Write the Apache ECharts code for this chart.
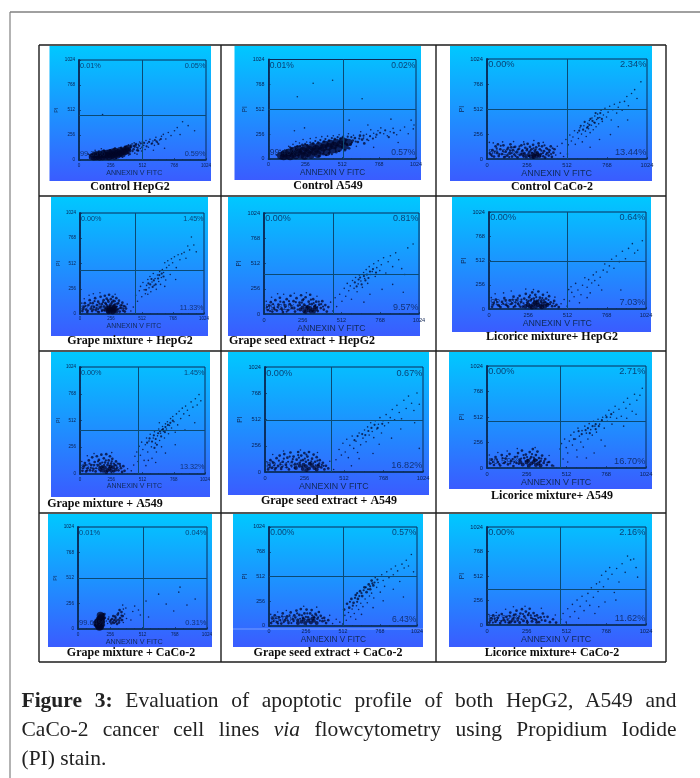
<!DOCTYPE html>
<html><head><meta charset="utf-8">
<style>
html,body{margin:0;padding:0;background:#fff;width:700px;height:778px;overflow:hidden}
#chart{position:absolute;left:0;top:0;width:700px;height:778px;filter:blur(0.55px)}
#cap{position:absolute;left:21.5px;top:686px;width:655px;font-family:"Liberation Serif",serif;font-size:21.5px;line-height:29px;color:#222}
#cap div{white-space:nowrap}
#cap .j{text-align:justify;text-align-last:justify;white-space:normal}
</style></head><body>
<div id="chart"></div>
<div id="cap">
<div class="j"><b>Figure 3:</b> Evaluation of apoptotic profile of both HepG2, A549 and</div>
<div class="j">CaCo-2 cancer cell lines <i>via</i> flowcytometry using Propidium Iodide</div>
<div>(PI) stain.</div>
</div>
<script src="https://cdn.jsdelivr.net/npm/echarts@6/dist/echarts.min.js"></script>
<script>
const tickLabels=[0,256,512,768,1024];
const titles=["Control HepG2","Control A549","Control CaCo-2","Grape mixture + HepG2","Grape seed extract + HepG2","Licorice mixture+ HepG2","Grape mixture + A549","Grape seed extract + A549","Licorice mixture+ A549","Grape mixture + CaCo-2","Grape seed extract + CaCo-2","Licorice mixture+ CaCo-2"];
const upperLeft=["0.01%","0.01%","0.00%","0.00%","0.00%","0.00%","0.00%","0.00%","0.00%","0.01%","0.00%","0.00%"];
const upperRight=["0.05%","0.02%","2.34%","1.45%","0.81%","0.64%","1.45%","0.67%","2.71%","0.04%","0.57%","2.16%"];
const lowerRight=["0.59%","0.57%","13.44%","11.33%","9.57%","7.03%","13.32%","16.82%","16.70%","0.31%","6.43%","11.62%"];
const lowerLeft=["99.35%","99.40%","84.22%","87.22%","89.62%","92.33%","85.23%","82.51%","80.59%","99.64%","93.00%","86.22%"];
const gateX=[508,517,512,454,456,509,475,428,470,516,512,470];
const gateY=[461,515,512,446,405,507,421,507,472,512,517,376];

const p01Blob=[[105,35],[120,28],[125,50],[140,30],[145,55],[155,42],[165,28],[170,62],[180,45],[190,30],[195,70],[205,52],[215,35],[222,72],[230,48],[240,30],[245,78],[255,60],[262,40],[270,85],[278,55],[285,35],[292,92],[300,68],[308,46],[316,80],[325,58],[332,100],[340,75],[350,60],[358,96],[368,82],[378,110],[385,90],[395,122]];
const p01Mid=[[92,45],[112,60],[135,75],[160,85],[200,95],[250,100],[290,118],[340,125],[372,135],[395,75],[412,100],[420,135],[440,110],[455,150],[470,100]];
const p01Sparse=[[400,155],[415,85],[428,165],[445,175],[450,70],[462,130],[468,60],[478,160],[488,185],[495,118],[505,92],[512,190],[522,150],[533,108],[540,200],[552,172],[560,130],[572,212],[583,165],[596,195],[608,150],[620,232],[632,180],[650,205],[665,242],[680,262],[700,215],[720,282],[742,250],[770,300],[792,332],[835,392],[880,352],[932,300],[190,465],[85,20],[75,60],[300,15],[350,28],[400,50],[130,100],[180,115],[600,100],[690,120],[815,260]];
const p01Extra=[[405,120],[418,150],[432,90],[447,135],[460,165],[473,125],[485,145],[498,170],[510,130],[525,175],[545,140],[565,185],[590,170],[612,205],[640,165],[660,215],[625,190],[410,60],[440,145],[478,95]];

const p02Blob=[[85,35],[105,25],[110,55],[130,40],[145,70],[150,25],[170,50],[175,85],[190,35],[205,70],[210,100],[225,45],[240,85],[250,30],[258,115],[270,60],[285,95],[295,40],[305,125],[318,75],[330,105],[342,50],[350,135],[365,85],[380,115],[392,150],[405,70],[418,125],[430,160],[445,95],[455,140],[470,170],[485,110],[500,155],[515,185],[530,130],[555,170]];
const p02Mid=[[100,70],[125,90],[160,110],[200,130],[235,145],[270,140],[310,160],[345,170],[385,180],[420,190],[460,205],[500,210],[540,200],[570,150],[585,190],[600,215],[620,175],[635,240],[560,110],[470,70],[420,60],[380,50],[350,30],[530,90],[650,200],[665,160]];
const p02Sparse=[[140,130],[170,150],[190,180],[215,165],[240,200],[265,175],[290,210],[330,220],[370,230],[410,235],[450,240],[490,250],[520,240],[555,260],[590,245],[610,130],[640,280],[660,215],[680,255],[695,190],[710,300],[730,265],[745,225],[760,290],[780,320],[800,260],[825,240],[845,280],[865,315],[890,250],[915,295],[945,330],[970,260],[990,400],[1005,310],[1010,350],[180,290],[200,640],[250,320],[310,780],[445,810],[560,400],[690,350],[650,620],[850,410],[730,120],[900,170],[80,90],[55,40]];
const p02Extra=[[150,120],[185,125],[220,135],[255,155],[290,170],[325,185],[360,195],[395,205],[440,215],[480,225],[515,225],[550,230],[580,170],[605,180],[630,210],[575,225],[545,150],[510,120],[490,80],[440,50],[400,40],[660,240],[685,200],[705,235],[725,210],[750,250],[775,270],[810,295],[835,225],[870,270]];

const p03Blob=[[265,40],[280,25],[290,50],[300,35],[310,60],[318,28],[325,45],[300,20],[335,32],[230,45]];
const p03Mid=[[25,45],[35,90],[45,25],[55,130],[65,65],[75,30],[85,100],[95,50],[105,140],[110,20],[120,75],[130,35],[135,115],[145,60],[150,150],[160,25],[165,90],[175,45],[180,125],[190,70],[195,18],[205,105],[210,40],[220,140],[225,80],[235,25],[240,60],[245,115],[255,90],[260,155],[270,70],[275,125],[285,100],[295,15],[295,145],[305,85],[315,120],[322,70],[330,160],[338,100],[345,50],[352,130],[360,28],[365,80],[372,15],[380,110],[385,60],[395,35],[400,90],[408,130],[415,22],[425,65],[432,100],[250,20],[155,120],[70,150]];
const p03Sparse=[[15,170],[40,165],[100,175],[170,178],[235,175],[300,190],[360,170],[440,40],[450,130],[470,60],[480,160],[490,25],[515,50],[520,145],[505,200],[530,245],[540,185],[550,225],[560,290],[565,150],[580,270],[585,210],[595,320],[605,255],[610,175],[620,340],[630,285],[635,230],[645,365],[650,310],[655,395],[660,270],[668,345],[672,420],[680,300],[685,375],[690,440],[698,330],[702,405],[708,460],[715,360],[722,425],[730,500],[738,385],[745,450],[755,520],[765,430],[775,480],[785,540],[795,400],[805,505],[815,560],[830,470],[840,530],[850,580],[865,500],[880,590],[895,640],[905,545],[925,670],[945,710],[960,620],[985,790],[790,250],[840,330],[900,400],[720,200],[660,120]];
const p03Extra=[[18,60],[32,30],[48,75],[62,110],[78,50],[88,135],[102,80],[118,25],[128,100],[142,20],[148,85],[158,60],[172,120],[183,30],[198,95],[208,130],[218,55],[228,90],[238,150],[248,40],[258,105],[268,30],[278,85],[288,65],[298,110],[308,40],[312,95],[328,55],[332,135],[342,30],[348,85],[358,60],[368,140],[378,45],[388,100],[398,70],[410,50],[420,110],[645,330],[655,350],[662,410],[675,390],[690,370],[695,470],[710,420],[625,380],[640,320],[615,300],[600,340],[590,290],[725,470],[735,410]];

const p04Blob=[[215,45],[230,30],[240,60],[250,25],[255,50],[265,40],[275,60],[280,28],[290,45],[260,70],[235,20],[300,30],[245,42],[270,18],[285,72],[225,58]];
const p04Mid=[[20,30],[30,70],[40,110],[50,45],[60,20],[70,90],[80,140],[90,55],[100,30],[105,110],[115,70],[125,160],[130,40],[140,90],[150,125],[155,20],[165,65],[170,175],[180,100],[185,40],[195,140],[200,75],[205,185],[210,110],[220,155],[225,85],[235,125],[240,195],[250,95],[255,150],[265,120],[270,175],[280,90],[285,130],[295,70],[300,160],[308,105],[315,50],[322,135],[328,25],[335,85],[342,60],[350,115],[356,35],[362,80],[370,25],[380,55]];
const p04Sparse=[[15,110],[35,155],[75,190],[110,205],[165,215],[290,200],[390,100],[420,30],[440,70],[460,190],[475,130],[490,235],[500,280],[510,175],[520,320],[530,245],[540,205],[550,290],[560,350],[570,265],[578,380],[585,225],[595,325],[605,410],[612,290],[620,360],[630,250],[640,395],[650,330],[658,430],[665,300],[672,370],[680,450],[690,420],[700,520],[708,345],[715,470],[725,540],[735,495],[745,400],[755,560],[765,520],[780,580],[795,470],[810,600],[825,550],[840,610],[860,625],[875,565],[890,690],[905,650],[920,780],[940,700],[960,630],[560,200],[700,280],[790,350]];
const p04Extra=[[25,50],[45,80],[65,35],[85,110],[95,75],[110,45],[120,130],[135,60],[145,25],[160,105],[175,75],[190,120],[200,35],[215,100],[230,140],[245,80],[260,105],[275,135],[290,100],[305,75],[318,110],[330,60],[345,90],[360,55],[375,75],[180,30],[150,50],[545,245],[565,310],[590,355],[610,340],[625,300],[645,360],[655,395],[675,410],[690,380],[600,275],[580,300]];

const p05Blob=[[240,45],[265,30],[280,55],[295,35],[305,60],[320,40],[330,25],[345,50],[255,65],[310,25],[275,20],[290,70],[335,65]];
const p05Mid=[[25,40],[35,85],[45,120],[55,25],[65,60],[75,140],[85,35],[95,95],[105,165],[115,55],[125,20],[130,120],[140,75],[150,150],[160,40],[170,100],[175,185],[185,60],[195,130],[205,25],[215,160],[225,85],[235,115],[245,190],[255,140],[265,95],[275,170],[285,75],[295,125],[305,195],[315,100],[325,150],[335,80],[345,125],[355,30],[365,95],[375,60],[385,130],[395,45],[405,90],[415,25],[425,70]];
const p05Sparse=[[15,130],[50,170],[90,205],[130,200],[200,210],[280,215],[350,180],[440,120],[455,30],[470,165],[480,75],[500,200],[515,130],[530,260],[540,180],[550,310],[560,235],[570,285],[578,150],[585,340],[595,260],[605,370],[615,225],[622,305],[630,395],[640,335],[650,270],[658,420],[665,360],[675,450],[685,310],[695,480],[705,400],[715,430],[725,510],[735,380],[745,470],[755,540],[765,440],[775,500],[790,570],[805,415],[820,530],[835,590],[850,480],[870,620],[890,550],[910,460],[930,400],[950,670],[985,710],[780,250],[850,300],[920,220],[660,120],[700,200]];
const p05Extra=[[20,70],[40,30],[60,100],[72,45],[90,70],[108,125],[120,40],[135,95],[150,25],[165,130],[180,85],[200,60],[210,120],[222,45],[238,90],[250,115],[262,150],[272,85],[300,100],[310,145],[328,110],[340,90],[352,70],[362,125],[378,100],[390,75],[600,320],[612,280],[625,350],[645,300],[660,385],[670,340],[680,400],[700,430],[690,365],[720,455],[740,420],[635,370]];

const p06Blob=[[270,30],[290,50],[305,25],[320,45],[335,30],[350,55],[300,65],[255,45],[365,30],[345,20],[280,18],[315,68],[238,30],[380,45]];
const p06Mid=[[20,25],[30,65],[45,100],[60,40],[75,20],[85,75],[100,115],[110,45],[125,25],[135,90],[150,60],[160,130],[170,30],[180,95],[190,55],[200,140],[210,75],[220,25],[230,110],[240,160],[250,70],[262,125],[272,90],[282,175],[292,110],[302,150],[312,85],[322,185],[332,120],[342,90],[352,150],[362,75],[372,110],[382,50],[392,135],[402,70],[412,30],[425,85],[440,45],[455,20]];
const p06Sparse=[[15,120],[40,160],[95,170],[145,190],[240,210],[290,205],[380,175],[430,125],[470,55],[490,100],[510,30],[525,85],[535,235],[540,175],[555,130],[565,270],[580,200],[590,65],[600,150],[610,250],[625,330],[640,230],[650,310],[660,170],[670,275],[680,360],[690,300],[700,390],[715,250],[725,335],[735,200],[745,410],[755,475],[770,390],[785,455],[800,525],[815,430],[830,560],[850,500],[870,610],[890,530],[910,640],[935,690],[950,590],[970,620],[1000,720],[860,200],[640,120],[520,205]];
const p06Extra=[[28,45],[52,75],[68,30],[92,55],[108,90],[118,35],[142,50],[155,100],[172,70],[188,115],[198,35],[212,100],[225,60],[245,95],[258,85],[268,145],[278,105],[295,85],[308,125],[325,95],[338,75],[348,115],[358,95],[370,70],[388,95],[398,50],[420,60],[160,20],[205,22],[430,30]];

const p07Blob=[[165,45],[190,30],[205,60],[225,35],[240,50],[255,30],[270,65],[215,20],[290,40],[178,62],[250,70]];
const p07Mid=[[20,30],[30,75],[40,105],[50,25],[62,55],[72,130],[82,35],[92,85],[100,160],[110,50],[120,115],[128,25],[138,170],[145,85],[155,135],[165,100],[175,185],[185,70],[195,150],[205,110],[215,190],[225,85],[235,130],[245,170],[255,100],[265,145],[275,25],[285,85],[295,120],[305,60],[315,35],[325,95],[335,55],[345,20],[355,75],[365,30]];
const p07Sparse=[[15,120],[60,175],[115,195],[260,205],[390,50],[420,30],[440,85],[450,170],[465,210],[475,120],[485,265],[495,180],[505,305],[515,235],[525,130],[535,280],[545,345],[555,210],[565,315],[575,380],[585,260],[590,150],[600,345],[610,405],[618,295],[626,210],[635,365],[645,430],[652,320],[660,390],[668,260],[676,455],[684,410],[692,345],[700,480],[708,430],[716,500],[725,385],[733,465],[742,530],[750,440],[760,550],[770,500],[780,400],[790,575],[800,470],[812,600],[825,530],[838,630],[850,575],[865,650],[880,610],[895,560],[910,690],[925,640],[945,720],[960,660],[975,760],[990,700],[540,80],[620,110],[700,200],[780,280],[860,420],[940,490],[650,490],[560,130]];
const p07Extra=[[25,55],[45,85],[58,35],[78,100],[88,60],[105,30],[115,85],[132,55],[148,120],[160,70],[170,25],[182,110],[198,85],[212,130],[230,105],[242,80],[260,120],[278,100],[298,80],[310,100],[330,75],[640,390],[655,410],[665,360],[680,430],[695,400],[605,370],[620,335],[590,310],[570,340],[630,280],[672,420],[700,450],[720,470],[740,490],[760,510],[610,250],[550,300]];

const p08Blob=[[200,40],[225,60],[245,30],[265,55],[285,35],[305,60],[320,40],[270,20],[335,25],[250,70],[290,80],[345,55]];
const p08Mid=[[20,25],[28,70],[35,115],[45,40],[55,90],[65,25],[75,135],[85,60],[95,160],[105,30],[115,100],[125,175],[135,70],[145,140],[155,25],[165,190],[175,100],[185,150],[195,75],[205,120],[215,195],[225,90],[235,160],[245,115],[255,185],[265,100],[275,150],[285,195],[295,85],[305,130],[315,170],[325,100],[335,145],[345,70],[355,115],[365,45],[375,90],[385,25],[395,60],[410,35]];
const p08Sparse=[[12,100],[50,170],[120,205],[230,215],[340,190],[420,105],[445,25],[460,120],[480,220],[495,165],[505,280],[520,195],[530,320],[540,140],[550,260],[565,350],[575,230],[590,300],[600,190],[610,380],[620,265],[635,330],[645,410],[655,295],[665,440],[675,360],[685,480],[695,395],[705,335],[715,500],[725,420],[735,465],[745,530],[755,380],[765,500],[775,450],[785,560],[800,480],[812,530],[825,610],[840,510],[855,650],[870,580],[885,520],[900,700],[915,620],[930,740],[950,670],[965,600],[985,770],[1000,660],[740,270],[820,330],[880,420],[970,480],[610,130],[560,60],[700,180],[1000,230]];
const p08Extra=[[30,45],[48,100],[60,65],[72,40],[90,110],[100,75],[110,50],[122,130],[140,45],[150,100],[170,60],[180,125],[192,40],[210,80],[220,140],[232,110],[240,50],[258,130],[280,115],[300,105],[312,85],[328,65],[340,110],[352,85],[368,70],[380,60],[160,150],[215,165],[268,170],[580,310],[600,350],[630,370],[650,360],[670,400],[690,430],[710,460],[730,430],[760,470]];

const p09Blob=[[230,35],[255,55],[270,25],[285,45],[300,60],[315,30],[330,45],[345,25],[215,60],[265,72],[310,78]];
const p09Mid=[[20,45],[30,85],[45,30],[55,110],[70,60],[85,25],[95,130],[110,50],[120,95],[135,35],[145,140],[155,70],[170,20],[180,110],[190,50],[200,150],[210,85],[225,175],[240,100],[250,135],[262,80],[275,160],[285,110],[295,190],[305,85],[315,130],[325,165],[335,100],[345,70],[355,125],[365,50],[375,90],[385,30],[400,60],[420,25]];
const p09Sparse=[[15,130],[70,155],[130,170],[195,195],[310,205],[400,125],[430,20],[470,190],[480,245],[490,90],[500,290],[510,205],[520,150],[530,270],[540,330],[550,230],[560,360],[570,290],[578,180],[586,400],[595,320],[604,260],[612,375],[620,210],[630,420],[640,350],[650,290],[658,445],[668,385],[678,330],[686,470],[695,420],[705,360],[715,490],[725,440],[735,280],[745,510],[755,400],[765,530],[775,470],[785,580],[795,510],[805,440],[815,560],[825,620],[835,500],[850,590],[865,520],[880,660],[895,600],[905,700],[920,640],[935,570],[950,740],[965,680],[985,730],[1000,800],[690,150],[760,220],[880,420],[900,500],[580,110],[520,60],[640,100],[960,540]];
const p09Extra=[[38,60],[62,85],[78,40],[100,100],[118,60],[128,120],[150,45],[165,90],[176,60],[195,115],[205,40],[220,95],[235,130],[248,70],[258,110],[278,95],[290,140],[302,105],[322,80],[338,60],[350,95],[368,70],[390,55],[635,380],[650,400],[662,350],[680,420],[700,440],[720,420],[740,480],[700,390],[610,340],[590,370],[560,290],[770,510],[800,540]];

const p10Blob=[[165,30],[178,28],[160,45],[182,45],[158,60],[178,62],[165,75],[185,78],[170,92],[182,105],[188,120],[178,135],[170,20],[152,52]];
const p10Mid=[[255,75],[270,100],[285,60],[295,125],[305,85],[315,145],[325,65],[335,110],[345,170],[330,190],[350,90],[280,130],[265,55],[310,50],[355,130],[140,85],[200,110],[210,150]];
const p10Sparse=[[130,40],[125,70],[210,40],[225,80],[235,55],[245,120],[360,65],[370,150],[380,210],[385,105],[360,200],[355,240],[450,230],[480,190],[495,140],[540,280],[640,350],[700,250],[760,180],[865,240],[930,300],[810,420],[800,370],[560,120],[420,90],[435,175]];
const p10Extra=[[260,90],[275,70],[290,95],[300,110],[320,95],[300,70],[285,85],[240,100],[330,85],[345,135],[320,160],[205,70],[215,110],[200,150]];

const p11Blob=[[225,45],[250,30],[270,55],[290,35],[310,55],[330,30],[200,30],[240,68],[300,75]];
const p11Mid=[[15,30],[25,80],[40,110],[55,40],[70,90],[85,25],[95,130],[110,60],[125,100],[135,30],[150,140],[165,70],[175,110],[190,160],[200,60],[210,115],[220,175],[235,85],[245,130],[260,170],[270,90],[285,130],[295,165],[310,95],[322,125],[335,75],[345,145],[358,105],[370,50],[382,85],[395,30],[410,60],[520,170],[540,230],[555,190],[570,280],[585,240],[600,320],[615,280],[630,360],[645,310],[660,400],[675,350],[690,430],[700,380],[710,470],[722,420]];
const p11Sparse=[[12,120],[60,145],[120,160],[240,205],[330,195],[420,110],[440,25],[465,70],[490,40],[510,20],[525,110],[535,60],[550,140],[565,95],[575,175],[590,130],[605,210],[620,170],[635,235],[650,200],[665,280],[680,240],[695,310],[710,340],[725,290],[735,500],[745,400],[755,450],[770,350],[780,530],[790,470],[800,410],[815,560],[830,500],[845,590],[860,530],[875,620],[890,570],[905,460],[920,640],[935,600],[950,680],[965,620],[985,740],[1000,560],[790,260],[860,380],[930,300],[640,120],[720,190],[600,70]];
const p11Extra=[[32,50],[48,80],[62,25],[78,60],[90,100],[102,40],[118,80],[130,55],[142,110],[155,30],[170,50],[182,90],[195,130],[215,75],[228,110],[255,95],[265,130],[280,70],[298,110],[316,85],[328,110],[340,90],[352,55],[368,80],[385,55],[595,290],[610,340],[625,310],[640,340],[655,370],[670,400],[685,380],[700,410],[715,440],[730,450],[750,480],[560,250],[580,210],[610,250]];

const p12Blob=[[180,35],[210,25],[235,45],[260,30],[290,40],[150,28],[320,28]];
const p12Mid=[[15,25],[28,70],[40,100],[55,35],[70,75],[85,20],[95,115],[110,50],[125,85],[140,25],[150,130],[165,60],[175,105],[190,150],[200,70],[215,120],[225,165],[240,90],[250,140],[265,105],[275,170],[285,75],[300,125],[310,60],[322,100],[335,30],[345,80],[360,120],[375,45],[390,85],[405,30],[425,60],[445,25]];
const p12Sparse=[[12,110],[60,130],[120,165],[170,190],[245,195],[350,175],[440,105],[475,60],[490,120],[510,30],[520,170],[535,85],[550,215],[565,140],[580,260],[590,70],[600,195],[612,300],[625,150],[640,250],[650,330],[662,205],[672,390],[685,290],[695,120],[705,430],[715,350],[725,450],[738,520],[750,400],[765,560],[780,480],[790,600],[805,530],[820,340],[835,590],[850,450],[870,640],[890,550],[905,720],[925,680],[945,690],[960,600],[970,500],[760,240],[830,260],[720,190]];
const p12Extra=[[22,45],[38,25],[50,65],[65,50],[78,100],[92,40],[105,75],[118,30],[132,60],[146,95],[160,40],[172,75],[185,110],[198,45],[208,90],[222,60],[232,115],[248,70],[258,45],[270,125],[282,100],[296,65],[308,95],[318,50],[330,75],[352,50],[368,85]];

const blobs=[p01Blob,p02Blob,p03Blob,p04Blob,p05Blob,p06Blob,p07Blob,p08Blob,p09Blob,p10Blob,p11Blob,p12Blob];
const mids=[p01Mid,p02Mid,p03Mid,p04Mid,p05Mid,p06Mid,p07Mid,p08Mid,p09Mid,p10Mid,p11Mid,p12Mid];
const sparses=[p01Sparse,p02Sparse,p03Sparse,p04Sparse,p05Sparse,p06Sparse,p07Sparse,p08Sparse,p09Sparse,p10Sparse,p11Sparse,p12Sparse];
const extras=[p01Extra,p02Extra,p03Extra,p04Extra,p05Extra,p06Extra,p07Extra,p08Extra,p09Extra,p10Extra,p11Extra,p12Extra];

// layout only: image box, plot box, caption anchor (pixels)
const imageBox=[[49.5,46,211,181],[234.5,46,421,180],[450,46,652,181],[51,197,208,336],[228,197,420,336],[452,197,651,332],[51,352,210,497],[228,352,429,495],[449,352,652,489],[48,514,212,647],[233,514,423,647],[449,514,652,647]];
const plotBox=[[79,60,206,160],[268.5,59.5,416,159],[487,59,647,159],[80,213,204,314],[264,213,419,314],[489,212,646,309],[80,367,205,474],[265,367,423,472],[487,366,646,468],[78,527,207,629],[269,527,417,626],[487,527,646,625]];
const capPos=[[130,187],[328,186],[552,187],[130,341],[302,341],[552,337],[105,504],[329,501],[552,496],[131,653],[328,653],[552,653]];
const blobSize=[6.5,7.5,4,4.5,4,4.5,4,4,4,7.5,4,3];
const tableX=[39,221,436,666];
const tableY=[45,196,351,513,662];

const ink='rgba(2,6,40,0.92)', axisCol='#0a2c58', gateCol='#0b4a74';
const grid=[],xAxis=[],yAxis=[],series=[],graphic=[];

graphic.push({type:'line',shape:{x1:10,y1:12,x2:700,y2:12},style:{stroke:'#808080',lineWidth:1.4},z:-5});
graphic.push({type:'line',shape:{x1:10,y1:12,x2:10,y2:778},style:{stroke:'#808080',lineWidth:1.2},z:-5});
tableX.forEach(x=>graphic.push({type:'line',shape:{x1:x,y1:tableY[0],x2:x,y2:tableY[4]},style:{stroke:'#1c1c1c',lineWidth:1.4},z:-5}));
tableY.forEach(y=>graphic.push({type:'line',shape:{x1:tableX[0],y1:y,x2:tableX[3],y2:y},style:{stroke:'#1c1c1c',lineWidth:1.4},z:-5}));

titles.forEach((name,i)=>{
  const b=imageBox[i],p=plotBox[i],w=p[2]-p[0],h=p[3]-p[1];
  const pct=w*0.058, small=w*0.036;
  graphic.push({type:'rect',shape:{x:b[0],y:b[1],width:b[2]-b[0],height:b[3]-b[1]},z:-10,
    style:{fill:{type:'linear',x:0,y:0,x2:0,y2:1,colorStops:[{offset:0,color:'#00c8ff'},{offset:1,color:'#3a5cff'}]}}});
  graphic.push({type:'text',x:capPos[i][0],y:capPos[i][1],z:5,
    style:{text:name,fill:'#0d0d0d',font:'bold 12px "Liberation Serif", serif',textAlign:'center',textVerticalAlign:'middle'}});
  grid.push({left:p[0],top:p[1],width:w,height:h,show:true,backgroundColor:'transparent',borderColor:axisCol,borderWidth:1});
  xAxis.push({type:'value',gridIndex:i,min:0,max:1024,interval:256,
    name:'ANNEXIN V FITC',nameLocation:'center',nameGap:small+4.5,
    nameTextStyle:{fontFamily:'Liberation Sans',fontSize:w*0.056,color:'#102a58',padding:[0,w*0.13,0,0]},
    axisLine:{onZero:false,lineStyle:{color:axisCol,width:1.6}},
    axisTick:{inside:true,length:2,lineStyle:{color:axisCol,width:.7}},
    minorTick:{show:true,splitNumber:4,length:1,lineStyle:{color:axisCol,width:.5}},
    axisLabel:{fontFamily:'Liberation Sans',fontSize:small,color:'#0a2050',margin:3,showMinLabel:true,showMaxLabel:true,formatter:v=>tickLabels.includes(v)?String(v):''},
    splitLine:{show:false}});
  yAxis.push({type:'value',gridIndex:i,min:0,max:1024,interval:256,
    name:'PI',nameLocation:'center',nameGap:small*2+10,
    nameTextStyle:{fontFamily:'Liberation Sans',fontSize:small+1,color:'#102a58'},
    axisLine:{onZero:false,lineStyle:{color:axisCol,width:1.8}},
    axisTick:{inside:true,length:2,lineStyle:{color:axisCol,width:.7}},
    minorTick:{show:true,splitNumber:4,length:1,lineStyle:{color:axisCol,width:.5}},
    axisLabel:{fontFamily:'Liberation Sans',fontSize:small,color:'#0a2050',margin:4,showMinLabel:true,showMaxLabel:true,formatter:v=>tickLabels.includes(v)?String(v):''},
    splitLine:{show:false}});
  const common={type:'scatter',xAxisIndex:i,yAxisIndex:i,silent:true,animation:false,itemStyle:{color:ink}};
  series.push({...common,name:name+' sparse',symbolSize:1.6,data:sparses[i],z:3});
  series.push({...common,name:name+' extra',symbolSize:2.2,data:extras[i],z:3});
  series.push({...common,name:name+' cloud',symbolSize:2.7,data:mids[i],z:3});
  series.push({...common,name:name+' dense',symbolSize:blobSize[i],data:blobs[i],z:3});
  const lab=(text,x,y,align)=>({value:[x,y],label:{show:true,formatter:text,position:'inside',align:align,verticalAlign:'middle',fontFamily:'Liberation Sans',fontSize:pct,color:'#0a2050'}});
  series.push({type:'scatter',xAxisIndex:i,yAxisIndex:i,silent:true,animation:false,symbolSize:0,z:4,name:name+' gates',
    data:[lab(upperLeft[i],8,965,'left'),lab(upperRight[i],1020,965,'right'),lab(lowerRight[i],1020,65,'right'),lab(lowerLeft[i],8,65,'left')],
    markLine:{silent:true,animation:false,symbol:'none',label:{show:false},lineStyle:{color:gateCol,width:1,type:'solid'},data:[{xAxis:gateX[i]},{yAxis:gateY[i]}]}});
});
graphic.push({type:'line',shape:{x1:233,y1:629,x2:423,y2:629},style:{stroke:'rgba(255,255,255,0.35)',lineWidth:1},z:-8});

const chart=echarts.init(document.getElementById('chart'),null,{renderer:'canvas'});
chart.setOption({animation:false,backgroundColor:'#fff',tooltip:{show:false},grid,xAxis,yAxis,series,graphic});
</script>
</body></html>
